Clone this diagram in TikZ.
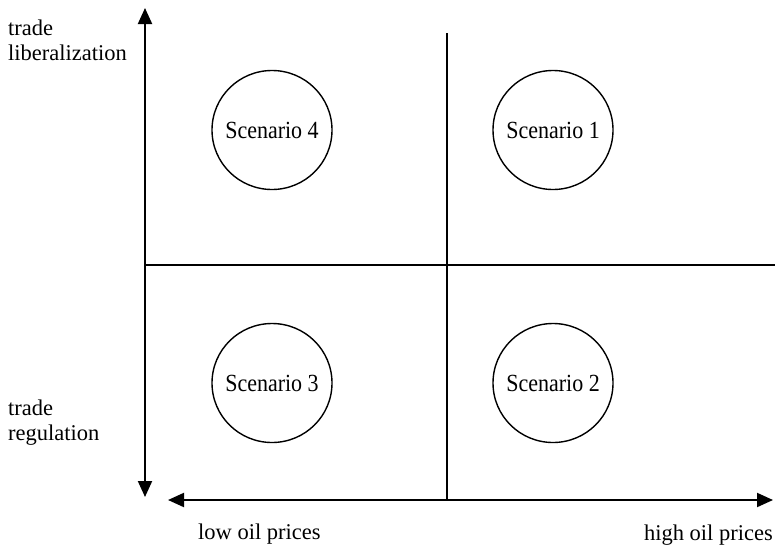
\documentclass[tikz,border=0pt]{standalone}
\usepackage{fontspec}
\setmainfont{Liberation Serif}
\usetikzlibrary{shapes.geometric,arrows.meta}
\begin{document}
\begin{tikzpicture}[x=1pt,y=-1pt,
  axis/.style={line width=2pt,{Triangle[length=16pt,width=14pt]}-{Triangle[length=16pt,width=14pt]}},
  divider/.style={line width=1.8pt},
  scen/.style={draw,ellipse,line width=1.4pt,minimum width=120pt,minimum height=119pt,inner sep=0pt},
  scentext/.style={inner sep=0pt,font=\fontsize{22}{26}\selectfont},
  lab/.style={inner sep=0pt,align=left,font=\fontsize{22.5}{25}\selectfont}]
\useasboundingbox (0,0) rectangle (775,546);
\coordinate (vtop) at (145,8);
\coordinate (vbot) at (145,497);
\coordinate (hleft) at (168,500);
\coordinate (hright) at (773,500);
\coordinate (mtop) at (447,33);
\coordinate (mbot) at (447,500);
\coordinate (ml) at (145,265);
\coordinate (mr) at (775,265);
\draw[axis] (vbot) -- (vtop);
\draw[axis] (hleft) -- (hright);
\draw[divider] (mtop) -- (mbot);
\draw[divider] (ml) -- (mr);
\node[scen] (s4) at (272,130) {};
\node[scen] (s1) at (553,130) {};
\node[scen] (s3) at (272,383) {};
\node[scen] (s2) at (553,383) {};
\node[scentext] (t4) at (s4.center) {\scalebox{1}[1.12]{Scenario 4}};
\node[scentext] (t1) at (s1.center) {\scalebox{1}[1.12]{Scenario 1}};
\node[scentext] (t3) at (s3.center) {\scalebox{1}[1.12]{Scenario 3}};
\node[scentext] (t2) at (s2.center) {\scalebox{1}[1.12]{Scenario 2}};
\node[lab,anchor=west] (tl) at (8,40) {trade\\liberalization};
\node[lab,anchor=west] (tr) at (8,423) {trade\\regulation};
\node[lab,anchor=west] (lo) at (198,534) {low oil prices};
\node[lab,anchor=east] (hi) at (773,535) {high oil prices};
\end{tikzpicture}
\end{document}
